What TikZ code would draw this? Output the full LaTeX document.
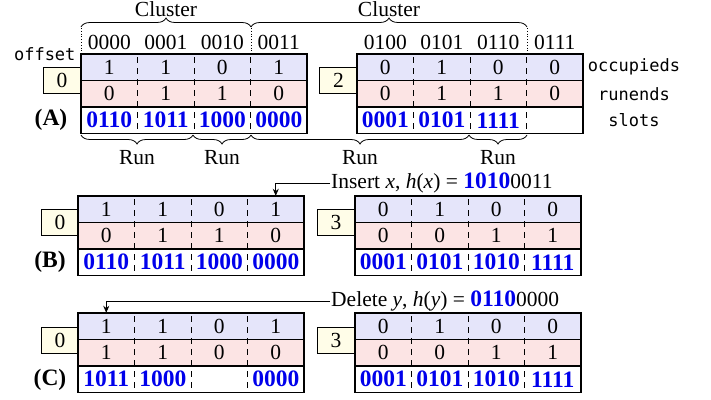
\documentclass[tikz,border=0pt]{standalone}
\usepackage{fontspec}
\setmainfont{Liberation Serif}
\setmonofont{DejaVu Sans Mono}
\usetikzlibrary{decorations.pathreplacing,arrows.meta}
\definecolor{occc}{RGB}{229,229,250}
\definecolor{runc}{RGB}{252,228,228}
\definecolor{offc}{RGB}{255,253,232}
\definecolor{slotc}{RGB}{0,0,235}
\newcommand\fsz{\fontsize{21.5}{24}\selectfont}
\newcommand\bsz{\fontsize{23.5}{26}\selectfont\bfseries}
\newcommand\hb[1]{\textcolor{slotc}{\bsz #1}}
\tikzset{
  cell/.style={inner sep=0pt,minimum width=56.5pt,minimum height=26.5pt,font=\fsz},
  slotcell/.style={cell,font=\bsz,text=slotc},
  frame/.style={line width=1.1pt},
  sep/.style={line width=0.8pt,dash pattern=on 6pt off 5pt,dash phase=-3pt},
  offbox/.style={draw,line width=0.8pt,fill=offc,inner sep=0pt,minimum width=38pt,minimum height=26pt,font=\fsz},
  lbl/.style={font=\fsz},
  tlbl/.style={font=\fontsize{17}{20}\ttfamily},
  brc/.style={decorate,decoration={brace,amplitude=9pt},line width=0.8pt},
  mbrc/.style={decorate,decoration={brace,amplitude=9pt,mirror},line width=0.8pt},
  conn/.style={line width=0.8pt,-{Stealth[length=7pt,width=6pt]}}
}
\newcommand\qfblock[6]{%
  \fill[occc] (#2,#3) rectangle ++(226,26.5);
  \fill[runc] (#2,#3+26.5) rectangle ++(226,26.5);
  \foreach \v [count=\i] in {#4} \node[cell] (#1-o\i) at (#2+56.5*\i-28.25,#3+13.25) {\v};
  \foreach \v [count=\i] in {#5} \node[cell] (#1-r\i) at (#2+56.5*\i-28.25,#3+39.75) {\v};
  \foreach \v [count=\i] in {#6} \node[slotcell] (#1-s\i) at (#2+56.5*\i-28.25,#3+66.25) {\v};
  \foreach \i in {1,2,3} \draw[sep] (#2+56.5*\i,#3) -- ++(0,79.5);
  \draw[frame] (#2,#3) rectangle ++(226,79.5);
  \draw[frame] (#2,#3+26.5) -- ++(226,0);
  \draw[frame] (#2,#3+53) -- ++(226,0);
}
\begin{document}
\begin{tikzpicture}[x=1pt,y=-1pt]
\useasboundingbox (0,0) rectangle (711,399);
% offset boxes
\node[offbox] (Aoff1) at (62,80) {0};
\node[offbox] (Aoff2) at (338.5,80) {2};
\node[offbox] (Boff1) at (60,222.5) {0};
\node[offbox] (Boff2) at (336,222.5) {3};
\node[offbox] (Coff1) at (60,340) {0};
\node[offbox] (Coff2) at (336,340) {3};
% blocks
\qfblock{AL}{81}{54}{1,1,0,1}{0,1,1,0}{0110,1011,1000,0000}
\qfblock{AR}{357}{54}{0,1,0,0}{0,1,1,0}{0001,0101,1111,{}}
\qfblock{BL}{78}{196}{1,1,0,1}{0,1,1,0}{0110,1011,1000,0000}
\qfblock{BR}{355}{196}{0,1,0,0}{0,0,1,1}{0001,0101,1010,1111}
\qfblock{CL}{78}{313}{1,1,0,1}{1,1,0,0}{1011,1000,{},0000}
\qfblock{CR}{355}{313}{0,1,0,0}{0,0,1,1}{0001,0101,1010,1111}
% side labels
\node[tlbl,anchor=east] (offl) at (79,54) {offset};
\node[tlbl] (occl) at (634,67) {occupieds};
\node[tlbl] (runl) at (634,94) {runends};
\node[tlbl] (slotl) at (634,120) {slots};
\node[font=\bsz] (Alab) at (51,120) {(A)};
\node[font=\bsz] (Blab) at (50,262) {(B)};
\node[font=\bsz] (Clab) at (50,380) {(C)};
% column headers
\foreach \t [count=\i] in {0000,0001,0010,0011}
  \node[lbl] (hl\i) at (81+56.5*\i-28.25,42) {\t};
\foreach \t [count=\i] in {0100,0101,0110,0111}
  \node[lbl] (hr\i) at (357+56.5*\i-28.25,42) {\t};
\draw[line width=0.8pt,dotted] (81,28) -- (81,54);
\draw[line width=0.8pt,dotted] (251,28) -- (251,54);
\draw[line width=0.8pt,dotted] (527,28) -- (527,54);
% cluster braces
\draw[brc] (81,27) -- (251,27);
\draw[brc] (251,27) -- (527,27);
\node[lbl] (cl1) at (166,9) {Cluster};
\node[lbl] (cl2) at (389,9) {Cluster};
% run braces
\draw[mbrc] (81,135) -- (193,135);
\draw[mbrc] (193,135) -- (251,135);
\draw[mbrc] (251,135) -- (469,135);
\draw[mbrc] (469,135) -- (527,135);
\node[lbl] (run1) at (137,158) {Run};
\node[lbl] (run2) at (222,158) {Run};
\node[lbl] (run3) at (360,158) {Run};
\node[lbl] (run4) at (498,158) {Run};
% annotations
\node[lbl,anchor=west,inner sep=1pt] (ins) at (330,183) {Insert \textit{x}, \textit{h}(\textit{x}) = \hb{1010}0011};
\draw[conn] (ins.west) -| (BL-o4.north);
\node[lbl,anchor=west,inner sep=1pt] (del) at (330,301) {Delete \textit{y}, \textit{h}(\textit{y}) = \hb{0110}0000};
\draw[conn] (del.west) -| (CL-o1.north);
\end{tikzpicture}
\end{document}
